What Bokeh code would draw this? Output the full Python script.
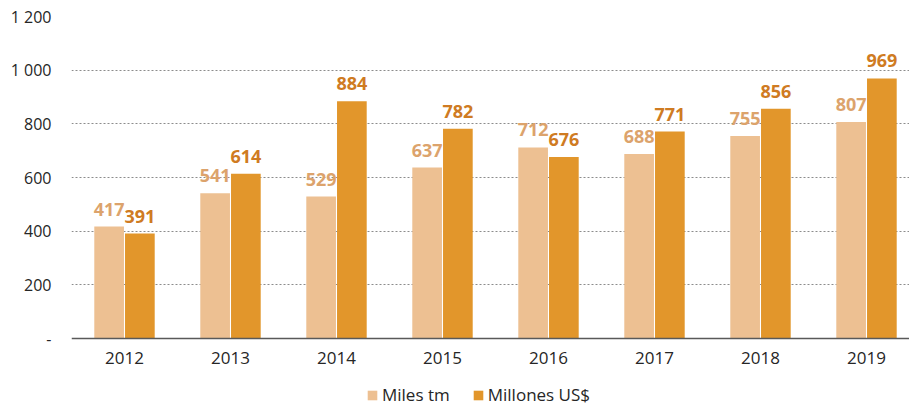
from bokeh.plotting import figure
from bokeh.models import ColumnDataSource, FixedTicker, Range1d, Legend, LegendItem, Span, LabelSet
from bokeh.core.properties import value
from bokeh.embed import file_html
from bokeh.resources import INLINE

years = ["2012", "2013", "2014", "2015", "2016", "2017", "2018", "2019"]
miles_tm = [417, 541, 529, 637, 712, 688, 755, 807]
millones_usd = [391, 614, 884, 782, 676, 771, 856, 969]
y_ticks = [0, 200, 400, 600, 800, 1000, 1200]
y_tick_labels = ["-", "200", "400", "600", "800", "1 000", "1 200"]

LIGHT = "#EDC092"
DARK = "#E2962B"
LIGHT_TXT = "#DCA36C"
DARK_TXT = "#CF7B22"
FONT = "Open Sans"

centers = [i + 0.5 for i in range(len(years))]
off = 0.145
bw = 0.28

src = ColumnDataSource(dict(
    xl=[c - off for c in centers], xd=[c + off for c in centers],
    a=miles_tm, b=millones_usd,
    la=[str(v) for v in miles_tm], lb=[str(v) for v in millones_usd],
))
ysrc = ColumnDataSource(dict(x=centers, y=[0] * len(years), t=years))

# frame spans 16..408 px; value 0 sits at 338 px, 1200 at 16 px
px_per_unit = 322 / 1200
y_bottom = -70 / px_per_unit

p = figure(width=909, height=408, output_backend="svg", toolbar_location=None,
           x_range=Range1d(0, 838 / 106), y_range=Range1d(y_bottom, 1200),
           x_axis_location=None,
           min_border_left=71, min_border_right=0, min_border_top=16, min_border_bottom=0)
p.outline_line_color = None
p.background_fill_color = "white"

rl = p.vbar(x="xl", top="a", width=bw, source=src, fill_color=LIGHT, line_color=None)
rd = p.vbar(x="xd", top="b", width=bw, source=src, fill_color=DARK, line_color=None)

p.add_layout(LabelSet(x="xl", y="a", text="la", source=src, text_align="center",
                      text_baseline="alphabetic", y_offset=11, text_font=value(FONT),
                      text_font_size="18px", text_font_style="bold", text_color=LIGHT_TXT))
p.add_layout(LabelSet(x="xd", y="b", text="lb", source=src, text_align="center",
                      text_baseline="alphabetic", y_offset=11, text_font=value(FONT),
                      text_font_size="18px", text_font_style="bold", text_color=DARK_TXT))

p.add_layout(LabelSet(x="x", y="y", text="t", source=ysrc, text_align="center",
                      text_baseline="alphabetic", y_offset=-25, text_font=value(FONT),
                      text_font_size="17px", text_color="#262626"))

p.add_layout(Span(location=0, dimension="width", line_color="#595959", line_width=1.5))

p.yaxis.ticker = FixedTicker(ticks=y_ticks)
p.yaxis.major_label_overrides = {t: l for t, l in zip(y_ticks, y_tick_labels)}
p.yaxis.axis_line_color = None
p.yaxis.major_tick_line_color = None
p.yaxis.minor_tick_line_color = None
p.yaxis.major_label_text_font = FONT
p.yaxis.major_label_text_font_size = "16px"
p.yaxis.major_label_text_color = "#262626"
p.yaxis.major_label_standoff = 14

p.xgrid.grid_line_color = None
p.ygrid.ticker = FixedTicker(ticks=y_ticks[1:])
p.ygrid.grid_line_color = "#8C8C8C"
p.ygrid.grid_line_dash = "2 2"
p.ygrid.grid_line_width = 1

legend = Legend(items=[LegendItem(label="Miles tm", renderers=[rl]),
                       LegendItem(label="Millones US$", renderers=[rd])],
                orientation="horizontal", location=(295, 2),
                label_text_font=FONT, label_text_font_size="17px", label_text_color="#262626",
                glyph_width=12, glyph_height=12, spacing=22, label_standoff=4,
                border_line_color=None, background_fill_alpha=0, padding=2, margin=0)
p.add_layout(legend, "center")

open("out.html", "w").write(file_html(p, INLINE))
